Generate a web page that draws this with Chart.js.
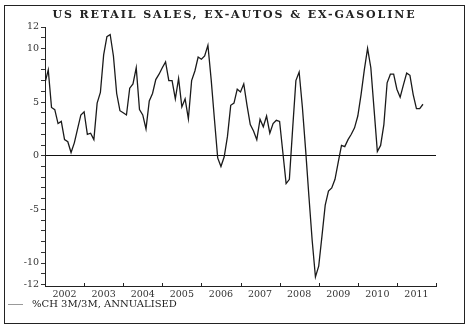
<!DOCTYPE html>
<html>
<head>
<meta charset="utf-8">
<script src="https://cdn.jsdelivr.net/npm/chart.js@4.4.0/dist/chart.umd.min.js"></script>
<style>
  body { margin: 0; background: #fff; }
  #wrap { position: relative; width: 469px; height: 329px; }
  #frame { position: absolute; left: 4px; top: 5px; width: 459px; height: 317px; border: 1px solid #222; pointer-events: none; }
  #heading { position: absolute; left: 4px; width: 461px; top: 8px; text-align: center; font: bold 11px "DejaVu Serif", serif; letter-spacing: 1.9px; color: #222; white-space: nowrap; }
  #key { position: absolute; left: 8px; top: 298px; font: 10px "DejaVu Serif", serif; color: #222; white-space: nowrap; }
  #key span { display: inline-block; width: 15px; height: 0; border-top: 1.5px solid #999; vertical-align: middle; margin-right: 9px; }
</style>
</head>
<body>
<div id="wrap">
  <canvas id="graphCanvas" width="469" height="329"></canvas>
  <div id="frame"></div>
  <div id="heading">US RETAIL SALES, EX-AUTOS &amp; EX-GASOLINE</div>
  <div id="key"><span></span>%CH 3M/3M, ANNUALISED</div>
</div>
<script>
// monthly, Jan 2002 onwards
var startYear = 2002;
var years = [2002, 2003, 2004, 2005, 2006, 2007, 2008, 2009, 2010, 2011];
var yLabels = [-12, -10, -5, 0, 5, 10, 12];

var sales2002 = [6.8, 8.0, 4.5, 4.3, 3.0, 3.2, 1.5, 1.3, 0.3, 1.2, 2.5, 3.8];
var sales2003 = [4.1, 2.0, 2.1, 1.5, 4.9, 5.9, 9.4, 11.1, 11.3, 9.3, 5.8, 4.2];
var sales2004 = [4.0, 3.8, 6.3, 6.7, 8.2, 4.3, 3.8, 2.5, 5.1, 5.8, 7.1, 7.6];
var sales2005 = [8.2, 8.75, 7.0, 7.0, 5.3, 7.2, 4.55, 5.3, 3.45, 7.0, 7.9, 9.2];
var sales2006 = [9.0, 9.3, 10.3, 7.1, 3.4, -0.2, -1.0, -0.1, 1.8, 4.7, 4.9, 6.2];
var sales2007 = [5.95, 6.7, 4.7, 2.9, 2.3, 1.5, 3.4, 2.7, 3.7, 2.1, 3.0, 3.3];
var sales2008 = [3.2, 0.3, -2.6, -2.2, 2.5, 7.0, 7.8, 4.5, 0.5, -3.8, -7.9, -11.3];
var sales2009 = [-10.3, -7.5, -4.6, -3.3, -3.0, -2.2, -0.6, 0.96, 0.85, 1.5, 2.0, 2.6];
var sales2010 = [3.7, 5.7, 8.0, 10.0, 8.2, 4.3, 0.4, 0.96, 2.9, 6.8, 7.6, 7.6];
var sales2011 = [6.2, 5.45, 6.6, 7.7, 7.5, 5.7, 4.4, 4.4, 4.8];

var retailSales = [].concat(sales2002, sales2003, sales2004, sales2005, sales2006,
    sales2007, sales2008, sales2009, sales2010, sales2011);

var points = retailSales.map(function (v, i) {
    return { x: startYear + i / 12, y: v };
});

var serif = "'DejaVu Serif', 'Liberation Serif', serif";

// short upward marks on the time axis at each year boundary
var yearMarks = {
    id: 'yearMarks',
    afterDraw: function (chart) {
        var ctx = chart.ctx;
        var x = chart.scales.x;
        var base = Math.round(x.top);
        var marks = years.slice(1).concat([years[years.length - 1] + 1]);
        ctx.save();
        ctx.strokeStyle = '#222';
        ctx.lineWidth = 1;
        marks.forEach(function (yr) {
            var px = Math.round(x.getPixelForValue(yr)) + 0.5;
            ctx.beginPath();
            ctx.moveTo(px, base);
            ctx.lineTo(px, base - 4);
            ctx.stroke();
        });
        ctx.restore();
    }
};

var graphTarget = document.getElementById('graphCanvas');

var lineGraph = new Chart(graphTarget, {
    type: 'line',
    data: {
        datasets: [
            {
                label: '%CH 3M/3M, ANNUALISED',
                data: points,
                borderColor: '#1a1a1a',
                borderWidth: 1.3,
                pointRadius: 0,
                tension: 0,
                fill: false
            }
        ]
    },
    options: {
        responsive: false,
        animation: false,
        layout: { padding: { left: 0, right: 33, top: 27, bottom: 27 } },
        plugins: {
            legend: { display: false },
            tooltip: { enabled: false },
            title: { display: false }
        },
        scales: {
            x: {
                type: 'linear',
                min: startYear,
                max: years[years.length - 1] + 1,
                border: { color: '#222', width: 1 },
                grid: { display: false, drawTicks: false },
                afterBuildTicks: function (scale) {
                    scale.ticks = years.map(function (y) { return { value: y + 0.5 }; });
                },
                ticks: {
                    autoSkip: false,
                    maxRotation: 0,
                    padding: 2,
                    color: '#333',
                    font: { family: serif, size: 9.5 },
                    callback: function (v) { return Math.floor(v); }
                }
            },
            y: {
                min: -12.2,
                max: 12,
                border: { color: '#222', width: 1 },
                afterBuildTicks: function (scale) {
                    var t = [];
                    for (var v = yLabels[0]; v <= yLabels[yLabels.length - 1]; v++) {
                        t.push({ value: v });
                    }
                    scale.ticks = t;
                },
                afterFit: function (scale) { scale.width = 45; },
                grid: {
                    drawOnChartArea: true,
                    color: function (c) { return c.tick && c.tick.value === 0 ? '#111' : 'rgba(0,0,0,0)'; },
                    lineWidth: 1,
                    tickColor: '#333',
                    tickLength: 4
                },
                ticks: {
                    autoSkip: false,
                    padding: 2,
                    color: '#333',
                    font: { family: serif, size: 9.5 },
                    callback: function (v) { return yLabels.indexOf(v) >= 0 ? String(v) : ''; }
                }
            }
        }
    },
    plugins: [yearMarks]
});
</script>
</body>
</html>
